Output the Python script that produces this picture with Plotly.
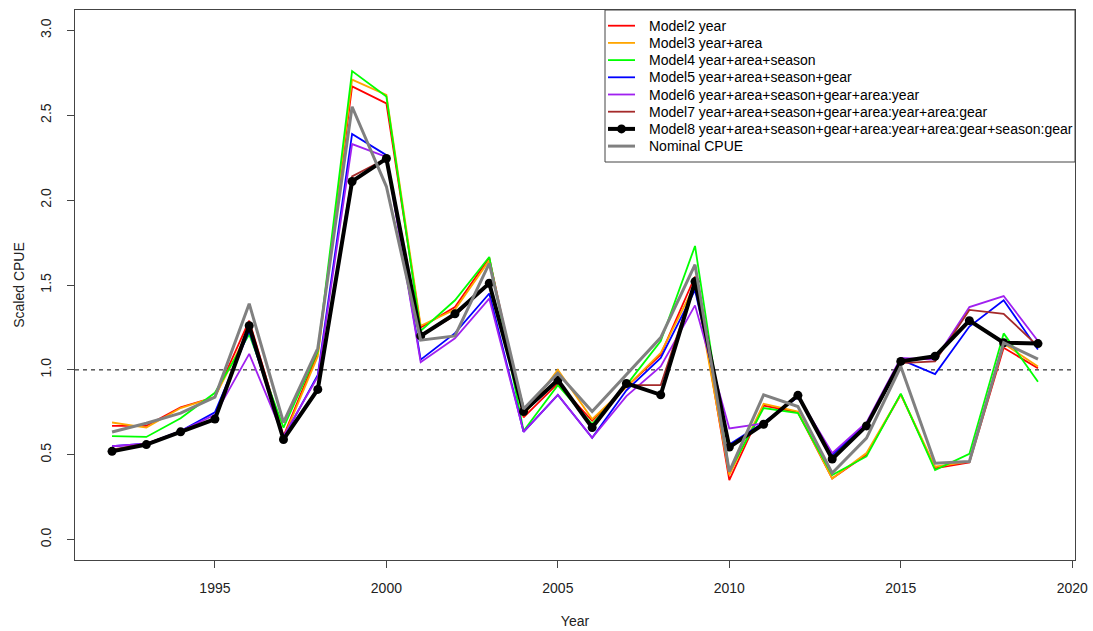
import plotly.graph_objects as go

# Standardised CPUE indices by year for each GLM model, plus the nominal series
years = list(range(1992, 2020))

model2 = [0.67, 0.67, 0.78, 0.84, 1.29, 0.61, 1.10, 2.67, 2.57, 1.25, 1.37, 1.66, 0.72, 0.92,
          0.70, 0.90, 1.09, 1.55, 0.35, 0.79, 0.75, 0.36, 0.50, 0.855, 0.42, 0.455, 1.13, 1.01]
model3 = [0.69, 0.66, 0.775, 0.84, 1.24, 0.60, 1.08, 2.71, 2.62, 1.26, 1.355, 1.645, 0.73, 1.00,
          0.71, 0.90, 1.10, 1.50, 0.38, 0.80, 0.755, 0.36, 0.51, 0.855, 0.43, 0.46, 1.155, 1.02]
model4 = [0.61, 0.605, 0.715, 0.865, 1.21, 0.66, 1.11, 2.76, 2.61, 1.23, 1.41, 1.665, 0.64, 0.91,
          0.68, 0.91, 1.17, 1.73, 0.40, 0.775, 0.745, 0.38, 0.49, 0.86, 0.41, 0.505, 1.215, 0.93]
model5 = [0.55, 0.565, 0.64, 0.75, 1.23, 0.60, 0.97, 2.39, 2.265, 1.06, 1.216, 1.45, 0.635, 0.853,
          0.60, 0.88, 1.07, 1.47, 0.56, 0.69, 0.84, 0.50, 0.68, 1.06, 0.975, 1.255, 1.41, 1.12]
model6 = [0.55, 0.565, 0.64, 0.735, 1.094, 0.61, 0.96, 2.33, 2.255, 1.045, 1.186, 1.42, 0.635, 0.853,
          0.60, 0.845, 1.02, 1.38, 0.655, 0.685, 0.845, 0.51, 0.69, 1.07, 1.06, 1.37, 1.435, 1.17]
model7 = [0.53, 0.565, 0.635, 0.71, 1.26, 0.59, 0.88, 2.14, 2.245, 1.20, 1.32, 1.51, 0.75, 0.935,
          0.66, 0.91, 0.91, 1.52, 0.545, 0.68, 0.85, 0.475, 0.67, 1.04, 1.05, 1.353, 1.33, 1.14]
model8 = [0.52, 0.56, 0.635, 0.71, 1.26, 0.59, 0.885, 2.11, 2.245, 1.20, 1.33, 1.51, 0.755, 0.94,
          0.66, 0.92, 0.853, 1.52, 0.545, 0.68, 0.85, 0.475, 0.67, 1.05, 1.08, 1.29, 1.16, 1.155]
nominal = [0.634, 0.686, 0.745, 0.84, 1.39, 0.69, 1.127, 2.55, 2.08, 1.175, 1.20, 1.627, 0.77, 0.98,
           0.755, 0.97, 1.19, 1.62, 0.40, 0.853, 0.784, 0.392, 0.598, 1.02, 0.45, 0.46, 1.16, 1.063]

series_names = [
    "Model2 year",
    "Model3 year+area",
    "Model4 year+area+season",
    "Model5 year+area+season+gear",
    "Model6 year+area+season+gear+area:year",
    "Model7 year+area+season+gear+area:year+area:gear",
    "Model8 year+area+season+gear+area:year+area:gear+season:gear",
    "Nominal CPUE",
]
series_values = [model2, model3, model4, model5, model6, model7, model8, nominal]
series_colors = ["#FF0000", "#FFA500", "#00FF00", "#0000FF", "#A020F0", "#A52A2A", "#000000", "#808080"]
series_widths = [1.8, 1.8, 1.8, 1.8, 1.8, 1.8, 4, 3]
series_points = [False, False, False, False, False, False, True, False]

x_ticks = [1995, 2000, 2005, 2010, 2015, 2020]
y_ticks = [0.0, 0.5, 1.0, 1.5, 2.0, 2.5, 3.0]

FONT = "Liberation Sans, Arial, sans-serif"
W, H = 1093, 631
ML, MR, MT, MB = 75, 18, 10, 71
PLOT_W, PLOT_H = W - ML - MR, H - MT - MB


def px_x(px):
    """Horizontal pixel position -> paper fraction."""
    return (px - ML) / PLOT_W


def px_y(py):
    """Vertical pixel position (from top) -> paper fraction."""
    return (H - MB - py) / PLOT_H


fig = go.Figure()
for name, vals, color, width, pts in zip(series_names, series_values, series_colors,
                                         series_widths, series_points):
    fig.add_trace(go.Scatter(
        x=years, y=vals, name=name,
        mode="lines+markers" if pts else "lines",
        line=dict(color=color, width=width),
        marker=dict(size=9, color=color) if pts else None,
        showlegend=False,
    ))

# reference level at 1.0
fig.add_shape(type="line", xref="paper", yref="y", x0=0, x1=1, y0=1, y1=1,
              line=dict(color="#000000", width=1, dash="4px,4px"), layer="below")

# legend box in the top-right corner of the plotting region
LEG_LEFT, LEG_BOTTOM = 605, 162
ROW0, ROW_STEP = 25.7, 17.2
fig.add_shape(type="rect", xref="paper", yref="paper",
              x0=px_x(LEG_LEFT), x1=1, y0=px_y(LEG_BOTTOM), y1=1,
              line=dict(color="#444444", width=1), fillcolor="white", layer="above")
for i, (name, color, width, pts) in enumerate(zip(series_names, series_colors,
                                                   series_widths, series_points)):
    yc = px_y(ROW0 + i * ROW_STEP)
    fig.add_shape(type="line", xref="paper", yref="paper",
                  x0=px_x(608), x1=px_x(635), y0=yc, y1=yc,
                  line=dict(color=color, width=width), layer="above")
    if pts:
        fig.add_shape(type="circle", xref="paper", yref="paper",
                      xsizemode="pixel", ysizemode="pixel",
                      xanchor=px_x(621.5), yanchor=yc,
                      x0=-4.5, x1=4.5, y0=-4.5, y1=4.5,
                      line=dict(color=color, width=0), fillcolor=color, layer="above")
    fig.add_annotation(xref="paper", yref="paper", x=px_x(647), y=yc,
                       xanchor="left", yanchor="middle", showarrow=False,
                       text=name, font=dict(family=FONT, size=14, color="#000000"))

fig.update_layout(
    width=W, height=H,
    margin=dict(l=ML, r=MR, t=MT, b=MB, autoexpand=False),
    paper_bgcolor="white", plot_bgcolor="white",
    font=dict(family=FONT, size=14, color="#222222"),
    showlegend=False,
    xaxis=dict(
        range=[1990.92, 2020.08], tickmode="array", tickvals=x_ticks,
        ticktext=[str(t) for t in x_ticks],
        showgrid=False, zeroline=False, automargin=False,
        showline=True, mirror=True, linecolor="#444444", linewidth=1,
        ticks="outside", ticklen=7, tickcolor="#444444",
        ticklabelstandoff=8,
        title=dict(text="Year", standoff=21, font=dict(size=14)),
    ),
    yaxis=dict(
        range=[-0.12, 3.12], tickmode="array", tickvals=y_ticks,
        ticktext=[f"{t:.1f}" for t in y_ticks], tickangle=-90,
        showgrid=False, zeroline=False, automargin=False,
        showline=True, mirror=True, linecolor="#444444", linewidth=1,
        ticks="outside", ticklen=7, tickcolor="#444444",
        ticklabelstandoff=10,
        title=dict(text="Scaled CPUE", standoff=10, font=dict(size=14)),
    ),
)

fig.write_html("out.html")
